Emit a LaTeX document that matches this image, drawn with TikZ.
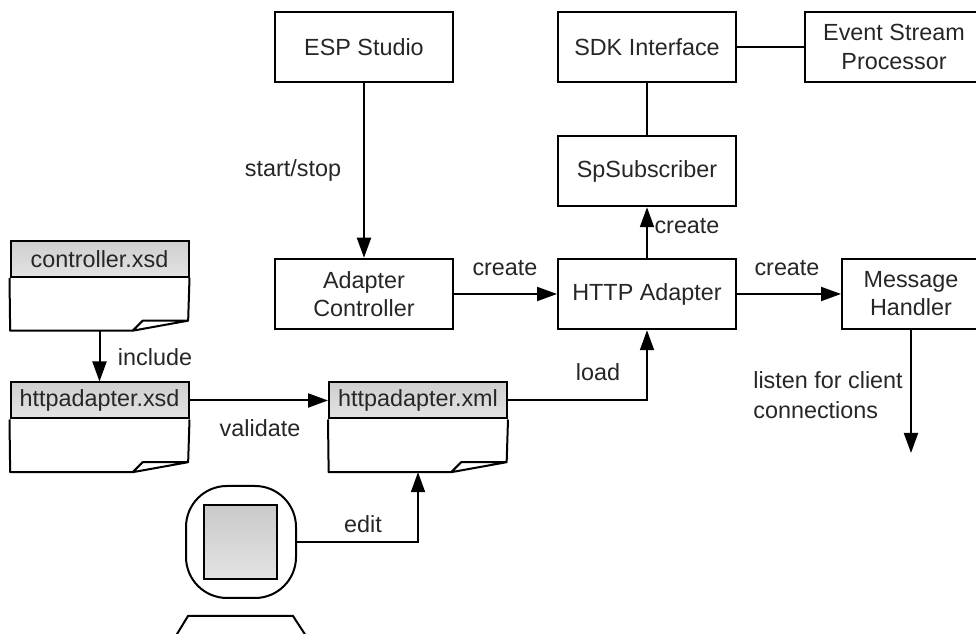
\documentclass[tikz,border=0pt]{standalone}
\usepackage{fontspec}
\setmainfont{Liberation Sans}
\usetikzlibrary{arrows.meta,positioning}
\tikzset{
	base/.style={line width=0.04cm,draw=black},
	block/.style={base,minimum width=3.56cm,minimum height=1.41cm,align=center,inner sep=0pt},
	dochead/.style={base,minimum width=3.56cm,minimum height=0.72cm,inner sep=0pt,top color=gray!38,bottom color=gray!22},
	docbody/.style={minimum width=3.56cm,minimum height=1.04cm,inner sep=0pt},
	lab/.style={inner sep=0pt,align=left},
	conn/.style={line width=0.04cm}
}
% head (#1head), body (#1body), turned corner
\newcommand{\docfile}[4]{
	\node[dochead] (#1head) at (#2,#3) {#4};
	\node[docbody,below=0pt of #1head] (#1body) {};
	\draw[base,line join=round] (#1head.south west) -- (#1body.south west) -- ++(2.45,0) -- ++(0.2,0.2) -- ++(0.91,0) -- (#1head.south east)
		(#1body.south west) ++(2.45,0) -- ++(1.11,0.2);
}
\begin{document}
\begin{tikzpicture}[>={Stealth[length=0.4cm,width=0.28cm,inset=0pt]},font=\fontsize{13.3}{16}\selectfont,text=black!85]
	\useasboundingbox (0,0) rectangle (19.52,12.68);
	\clip (0,0) rectangle (19.52,12.68);
	\node[block] (studio) at (7.28,11.74) {ESP Studio};
	\node[block] (sdk) at (12.94,11.74) {SDK Interface};
	\node[block] (esp) at (17.88,11.74) {Event Stream\\Processor};
	\node[block] (subscriber) at (12.94,9.26) {SpSubscriber};
	\node[block] (http) at (12.94,6.8) {HTTP Adapter};
	\node[block] (controller) at (7.28,6.8) {Adapter\\Controller};
	\node[block,minimum width=2.76cm] (handler) at (18.22,6.8) {Message\\Handler};
	\coordinate (listen) at (18.22,3.62);

	\docfile{ctl}{1.99}{7.5}{controller.xsd}
	\docfile{xsd}{1.99}{4.67}{httpadapter.xsd}
	\docfile{xml}{8.36}{4.67}{httpadapter.xml}

	% computer
	\node[base,minimum width=2.2cm,minimum height=2.24cm,rounded corners=0.82cm] (monitor) at (4.82,1.84) {};
	\node[base,minimum width=1.46cm,minimum height=1.48cm,top color=gray!42,bottom color=gray!22] (screen) at (4.81,1.84) {};
	\draw[base] (3.48,-0.1) -- (3.76,0.36) -- (5.86,0.36) -- (6.16,-0.1);

	\draw[conn,->] (studio) -- (controller);
	\draw[conn,->] (controller) -- (http);
	\draw[conn,->] (http) -- (subscriber);
	\draw[conn] (subscriber) -- (sdk);
	\draw[conn] (sdk) -- (esp);
	\draw[conn,->] (http.east) -- (handler.west);
	\draw[conn,->] (handler) -- (listen);
	\draw[conn,->] (ctlbody.south) -- (xsdhead.north);
	\draw[conn,->] (xsdhead) -- (xmlhead);
	\draw[conn,->] (xmlhead.east) -| (http.south);
	\draw[conn,->] (monitor.east) -| (xmlbody.south);

	\node[lab] (lstart) at (5.86,9.28) {start/stop};
	\node[lab] (lcreatea) at (10.1,7.32) {create};
	\node[lab] (lcreateb) at (13.74,8.16) {create};
	\node[lab] (lcreatec) at (15.74,7.32) {create};
	\node[lab] (lload) at (11.96,5.24) {load};
	\node[lab] (linclude) at (3.1,5.54) {include};
	\node[lab] (lvalidate) at (5.2,4.12) {validate};
	\node[lab] (ledit) at (7.26,2.2) {edit};
	\node[lab,anchor=west] (llisten) at (15.06,4.77) {listen for client\\[1pt]connections};
\end{tikzpicture}
\end{document}
